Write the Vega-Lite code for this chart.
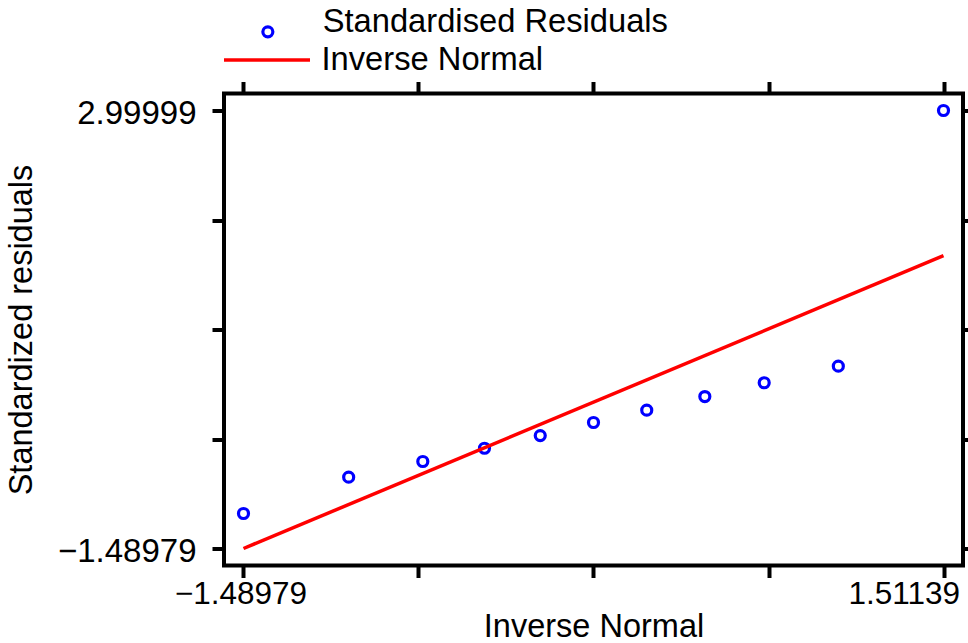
{
  "$schema": "https://vega.github.io/schema/vega-lite/v6.json",
  "width": 739,
  "height": 472,
  "autosize": {"type": "none"},
  "padding": {"left": 224, "top": 93.5, "right": 5, "bottom": 77.5},
  "background": "white",
  "config": {
    "view": {"stroke": "black", "strokeWidth": 4},
    "font": "Liberation Sans",
    "axis": {
      "grid": false,
      "domain": false,
      "tickColor": "black",
      "tickWidth": 4,
      "tickSize": 12,
      "labelColor": "black",
      "labelFont": "Liberation Sans",
      "labelFontSize": 31.5,
      "titleFont": "Liberation Sans",
      "titleFontSize": 32.5,
      "titleFontWeight": "normal",
      "titleColor": "black",
      "labelOverlap": false,
      "labelBound": false,
      "labelFlush": false
    },
    "legend": {
      "labelFont": "Liberation Sans",
      "labelFontSize": 32.7,
      "labelColor": "black",
      "labelLimit": 0,
      "padding": 0,
      "orient": "none"
    }
  },
  "datasets": {
    "resid": [
      {"q": -1.48979, "r": -1.131, "series": "Standardised Residuals"},
      {"q": -1.03886, "r": -0.759, "series": "Standardised Residuals"},
      {"q": -0.72105, "r": -0.598, "series": "Standardised Residuals"},
      {"q": -0.45652, "r": -0.462, "series": "Standardised Residuals"},
      {"q": -0.21749, "r": -0.332, "series": "Standardised Residuals"},
      {"q": 0.0108, "r": -0.198, "series": "Standardised Residuals"},
      {"q": 0.23909, "r": -0.072, "series": "Standardised Residuals"},
      {"q": 0.48812, "r": 0.068, "series": "Standardised Residuals"},
      {"q": 0.74265, "r": 0.209, "series": "Standardised Residuals"},
      {"q": 1.06046, "r": 0.379, "series": "Standardised Residuals"},
      {"q": 1.51139, "r": 2.99999, "series": "Standardised Residuals"}
    ],
    "ref": [
      {"q": -1.48979, "r": -1.48979, "series": "Inverse Normal"},
      {"q": 1.51139, "r": 1.51139, "series": "Inverse Normal"}
    ]
  },
  "layer": [
    {
      "data": {"name": "resid"},
      "mark": {"type": "point", "shape": "circle", "filled": false, "size": 100, "strokeWidth": 3.2, "opacity": 1},
      "encoding": {
        "x": {
          "field": "q", "type": "quantitative",
          "scale": {"domain": [-1.48979, 1.51139], "nice": false, "zero": false, "padding": 19.5},
          "axis": {
            "orient": "bottom",
            "values": [-1.48979, -0.739495, 0.0108, 0.761095, 1.51139],
            "labelExpr": "datum.value < -1.4 || datum.value > 1.5 ? format(datum.value, '.6') : ''",
            "labelPadding": 1,
            "labelAlign": {"condition": {"test": "datum.value > 1.5", "value": "right"}, "value": "center"},
            "labelOffset": {"condition": {"test": "datum.value > 1.5", "value": 16}, "value": -3},
            "title": "Inverse Normal",
            "titlePadding": 0
          }
        },
        "y": {
          "field": "r", "type": "quantitative",
          "scale": {"domain": [-1.48979, 2.99999], "nice": false, "zero": false, "padding": 17},
          "axis": {
            "orient": "left",
            "values": [-1.48979, -0.367345, 0.7551, 1.877545, 2.99999],
            "labelExpr": "datum.value < -1.4 || datum.value > 2.9 ? format(datum.value, '.6') : ''",
            "labelFontSize": 33,
            "labelPadding": 16,
            "labelOffset": 3,
            "title": "Standardized residuals",
            "titlePadding": 19
          }
        },
        "color": {
          "field": "series", "type": "nominal",
          "scale": {"range": ["#0000ff"]},
          "legend": {"title": null, "legendX": 27.5, "legendY": -78, "labelOffset": 38.5, "symbolStrokeWidth": 3.2, "symbolSize": 100, "symbolType": "circle", "labelBaseline": "alphabetic"}
        }
      }
    },
    {
      "data": {"name": "ref"},
      "mark": {"type": "line", "strokeWidth": 3.5},
      "encoding": {
        "x": {
          "field": "q", "type": "quantitative",
          "scale": {"domain": [-1.48979, 1.51139], "nice": false, "zero": false, "padding": 19.5},
          "axis": {"orient": "top", "values": [-1.48979, -0.739495, 0.0108, 0.761095, 1.51139], "labels": false, "title": null}
        },
        "y": {
          "field": "r", "type": "quantitative",
          "scale": {"domain": [-1.48979, 2.99999], "nice": false, "zero": false, "padding": 17},
          "axis": {"orient": "right", "values": [-1.48979, -0.367345, 0.7551, 1.877545, 2.99999], "labels": false, "title": null}
        },
        "color": {
          "field": "series", "type": "nominal",
          "scale": {"range": ["#ff0000"]},
          "legend": {"title": null, "legendX": -2, "legendY": -78.5, "labelOffset": 9.5, "symbolStrokeWidth": 3.5, "symbolSize": 7396, "symbolType": "stroke", "labelBaseline": "middle"}
        }
      }
    }
  ],
  "resolve": {
    "scale": {"color": "independent"},
    "legend": {"color": "independent"},
    "axis": {"x": "independent", "y": "independent"}
  }
}
